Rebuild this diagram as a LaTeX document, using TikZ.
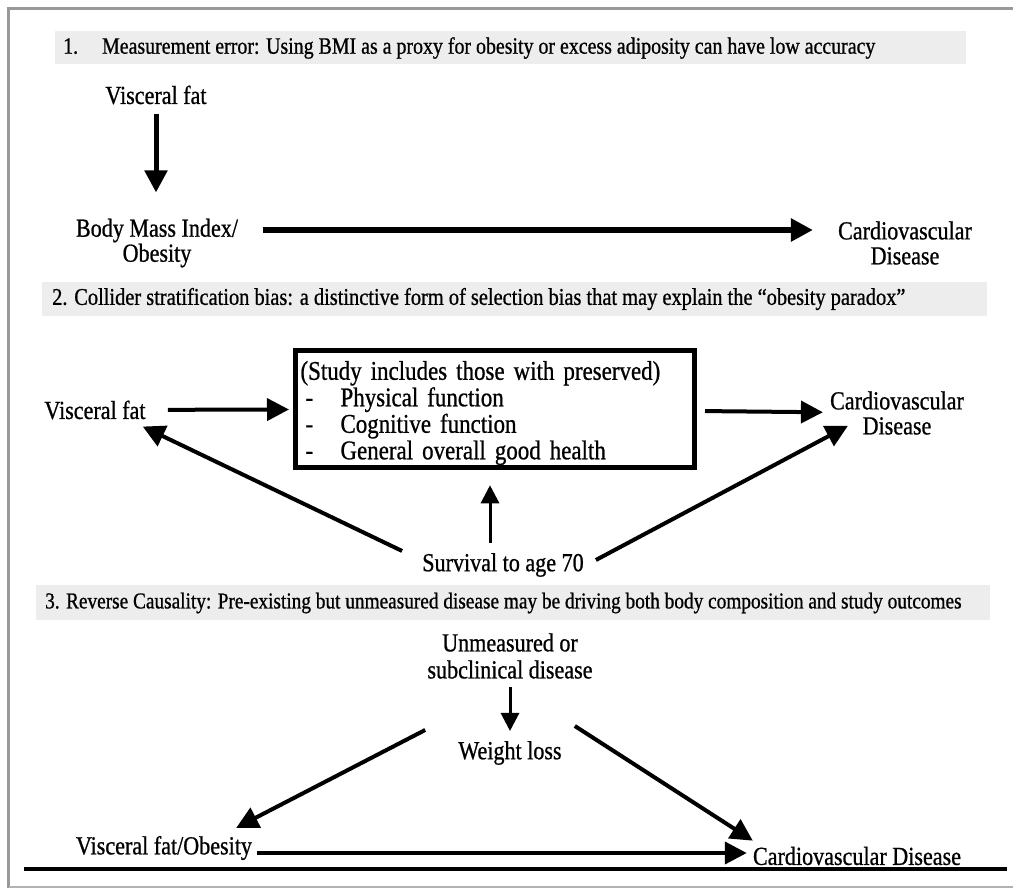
\documentclass[tikz,border=0pt]{standalone}
\usepackage{fontspec}
\setmainfont{Liberation Serif}[FakeStretch=0.85,FakeBold=0.8]
\usetikzlibrary{arrows.meta}

\tikzset{
  lbl/.style={font=\fontsize{26}{25}\selectfont, align=center, inner sep=2pt},
  head/.style={anchor=west, inner sep=0pt},
  band/.style={fill=black!7},
  arr/.style={line width=4pt, -{Triangle[length=22pt,width=22pt]}},
  bigarr/.style={line width=6pt, -{Triangle[length=22pt,width=22pt]}},
  thinarr/.style={line width=3pt, -{Triangle[length=18pt,width=18pt]}},
}

\begin{document}
\begin{tikzpicture}[x=1pt,y=-1pt]
\useasboundingbox (0,0) rectangle (1013,888);
% frame
\draw[black!40, line width=3pt] (1013,8.5) -- (8.5,8.5) -- (8.5,888);
\draw[black!30, line width=2pt] (8.5,887) -- (1013,887);

% headings
\fill[band] (55,31) rectangle (966,64);
\fill[band] (42,282) rectangle (987,316);
\fill[band] (36,585) rectangle (990,620);
\node[head, font=\fontsize{23.4}{24}\selectfont] (h1) at (63,48) {1.\hspace{24pt}Measurement error: Using BMI as a proxy for obesity or excess adiposity can have low accuracy};
\node[head, font=\fontsize{24}{24}\selectfont] (h2) at (52,299) {2. Collider stratification bias: a distinctive form of selection bias that may explain the “obesity paradox”};
\node[head, font=\fontsize{22.7}{24}\selectfont] (h3) at (45,603) {3. Reverse Causality: Pre-existing but unmeasured disease may be driving both body composition and study outcomes};

% 1. measurement error
\node[lbl] (vf1) at (156,95) {Visceral fat};
\node[lbl] (bmi) at (157,243) {Body Mass Index/\\Obesity};
\node[lbl] (cvd1) at (905,243) {Cardiovascular\\Disease};
\draw[arr, line width=5pt, shorten <=7pt, shorten >=24pt] (vf1.south) -- (vf1.south |- bmi.north);
\draw[bigarr, shorten <=23pt, shorten >=23pt] ([yshift=13pt]bmi.east) -- ([yshift=13pt]cvd1.west);

% 2. collider stratification
\node[lbl] (vf2) at (95,410) {Visceral fat};
\node[draw, line width=5pt, minimum width=399pt, text width=389pt, inner xsep=5pt, inner ysep=0pt,
      text height=29.5pt, text depth=88pt,
      font=\fontsize{27}{26.5}\selectfont, align=left] (incl) at (495,409)
  {(Study includes those with preserved)\\
   \makebox[40pt][l]{\hspace*{5pt}-}Physical function\\
   \makebox[40pt][l]{\hspace*{5pt}-}Cognitive function\\
   \makebox[40pt][l]{\hspace*{5pt}-}General overall good health};
\node[lbl] (cvd2) at (897,413) {Cardiovascular\\Disease};
\node[lbl] (surv) at (503,565) {Survival to age 70};
\draw[arr, shorten <=20pt, shorten >=4pt] (vf2) -- (incl);
\draw[arr, shorten <=8pt, shorten >=5pt] (incl) -- (cvd2);
\draw[arr] ([xshift=-18pt]surv.north west) -- ([shift={(-5pt,-5pt)}]vf2.south east);
\draw[arr] ([shift={(10pt,5pt)}]surv.east) -- ([shift={(20pt,11pt)}]cvd2.south west);
\draw[thinarr] ([shift={(-13pt,8pt)}]surv.north) -- ([shift={(-5pt,-15pt)}]incl.south);

% 3. reverse causality
\node[lbl] (unm) at (510,656) {Unmeasured or\\[2pt]subclinical disease};
\node[lbl] (wl) at (510,753) {Weight loss};
\node[lbl] (vf3) at (164,848) {Visceral fat/Obesity};
\node[lbl] (cvd3) at (857,856) {Cardiovascular Disease};
\draw[thinarr, shorten <=6pt, shorten >=8pt] (unm) -- (wl);
\draw[arr] ([shift={(-31pt,9pt)}]wl.north west) -- ([shift={(-18pt,6pt)}]vf3.north east);
\draw[arr] ([shift={(11pt,13pt)}]wl.north east) -- ([shift={(2pt,4pt)}]cvd3.north west);
\draw[arr, shorten <=3pt, shorten >=4pt] ([yshift=-5pt]vf3.east) -- ([yshift=3pt]cvd3.west);
\draw[line width=4pt] (24,869) -- (1007,869);
\end{tikzpicture}
\end{document}
